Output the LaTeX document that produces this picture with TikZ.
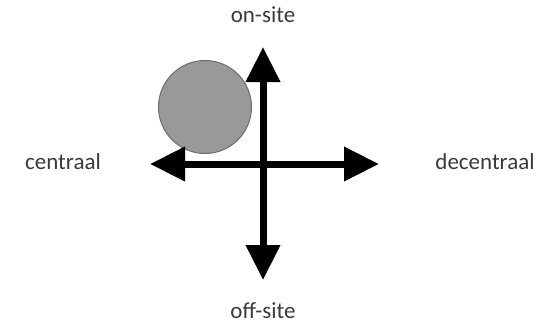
\documentclass[tikz,border=0pt]{standalone}
\usepackage{xcolor}
\usepackage{fontspec}
\setmainfont{Carlito}
\usetikzlibrary{arrows.meta}

\definecolor{labelgray}{HTML}{3A3A3A}
\definecolor{blobfill}{HTML}{999999}
\definecolor{blobdraw}{HTML}{6E6E6E}

\begin{document}
\begin{tikzpicture}[x=1pt, y=-1pt,
    axis/.style={line width=7pt, {Triangle[length=35pt,width=33pt]}-{Triangle[length=35pt,width=33pt]}},
    axislabel/.style={text=labelgray, font=\fontsize{23}{27}\selectfont, inner sep=0pt},
    blob/.style={circle, fill=blobfill, draw=blobdraw, line width=1pt, minimum size=93pt, inner sep=0pt}]
    \useasboundingbox (0,0) rectangle (557,324);

    % the spot
    \node[blob] (spot) at (205,107) {};

    % ends of the axes
    \coordinate (west) at (150,164);
    \coordinate (east) at (379,164);
    \coordinate (north) at (263,47);
    \coordinate (south) at (263,280);

    \draw[axis] (west) -- (east);
    \draw[axis] (south) -- (north);

    % labels
    \node[axislabel] (onsite) at (263,15) {on-site};
    \node[axislabel] (offsite) at (263,311) {off-site};
    \node[axislabel] (centraal) at (63,162) {centraal};
    \node[axislabel] (decentraal) at (485,162) {decentraal};
\end{tikzpicture}
\end{document}
